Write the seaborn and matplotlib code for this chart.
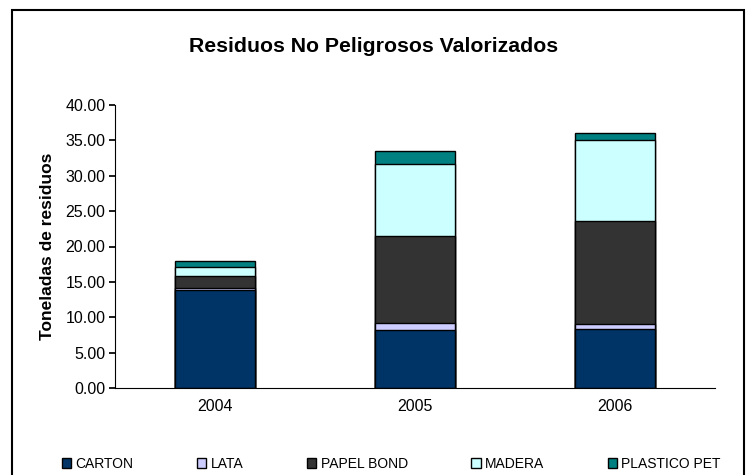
import matplotlib
matplotlib.use("Agg")
import matplotlib.pyplot as plt
from matplotlib.patches import Rectangle, Patch
import numpy as np
import pandas as pd
import seaborn as sns

years = ["2004", "2005", "2006"]
materials = ["CARTON", "LATA", "PAPEL BOND", "MADERA", "PLASTICO PET"]
carton = [13.9, 8.2, 8.4]
lata = [0.2, 1.0, 0.6]
papel_bond = [1.8, 12.3, 14.6]
madera = [1.2, 10.1, 11.4]
plastico_pet = [0.9, 1.9, 1.1]
colors = ["#003366", "#CCCCFF", "#333333", "#CCFFFF", "#008080"]

sns.set_theme(style="white")
plt.rcParams["font.family"] = ["Liberation Sans", "DejaVu Sans"]
plt.rcParams.update({"text.color": "black", "axes.labelcolor": "black",
                     "xtick.color": "black", "ytick.color": "black"})

fig = plt.figure(figsize=(7.48, 4.75), dpi=100)
ax = fig.add_axes([115 / 748, 1 - 388 / 475, 600 / 748, 283 / 475])

# outer chart frame
fig.patches.append(Rectangle((12 / 748, -0.05), 732 / 748, 1 - 10 / 475 + 0.05,
                             transform=fig.transFigure, fill=False,
                             edgecolor="black", linewidth=1.5))

# stacked bars: draw cumulative totals, tallest first
layers = np.array([carton, lata, papel_bond, madera, plastico_pet])
cum = np.cumsum(layers, axis=0)
for i in reversed(range(len(materials))):
    df = pd.DataFrame({"year": years, "value": cum[i]})
    sns.barplot(data=df, x="year", y="value", color=colors[i], width=0.4,
                edgecolor="black", linewidth=1.0, saturation=1, ax=ax)

ax.set_ylim(0, 40)
ax.set_xlim(-0.5, 2.5)
ticks = np.arange(0, 40.1, 5)
ax.set_yticks(ticks)
ax.set_yticklabels([f"{v:.2f}" for v in ticks], fontsize=11.5)
ax.set_xticks([-0.5, 0.5, 1.5, 2.5], minor=True)
ax.tick_params(axis="x", which="major", length=0, labelsize=11.5, pad=8)
ax.tick_params(axis="x", which="minor", length=4, direction="out")
ax.tick_params(axis="y", length=4, direction="out", left=True, pad=3)
ax.set_xlabel("")
ax.set_ylabel("Toneladas de residuos", fontsize=12.5, fontweight="bold", labelpad=7)
for s in ["top", "right"]:
    ax.spines[s].set_visible(False)
for s in ["left", "bottom"]:
    ax.spines[s].set_color("black")
    ax.spines[s].set_linewidth(0.8)

fig.text(0.5, 1 - 47 / 475, "Residuos No Peligrosos Valorizados",
         ha="center", va="center", fontsize=15.3, fontweight="bold")

handles = [Patch(facecolor=c, edgecolor="black", label=m)
           for m, c in zip(materials, colors)]
fig.legend(handles=handles, loc="center", ncol=5, frameon=False,
           bbox_to_anchor=(0.523, 1 - 464 / 475), fontsize=10,
           handlelength=0.7, handleheight=0.7, handletextpad=0.3,
           columnspacing=4.56)

fig.savefig("out.png", dpi=100)
